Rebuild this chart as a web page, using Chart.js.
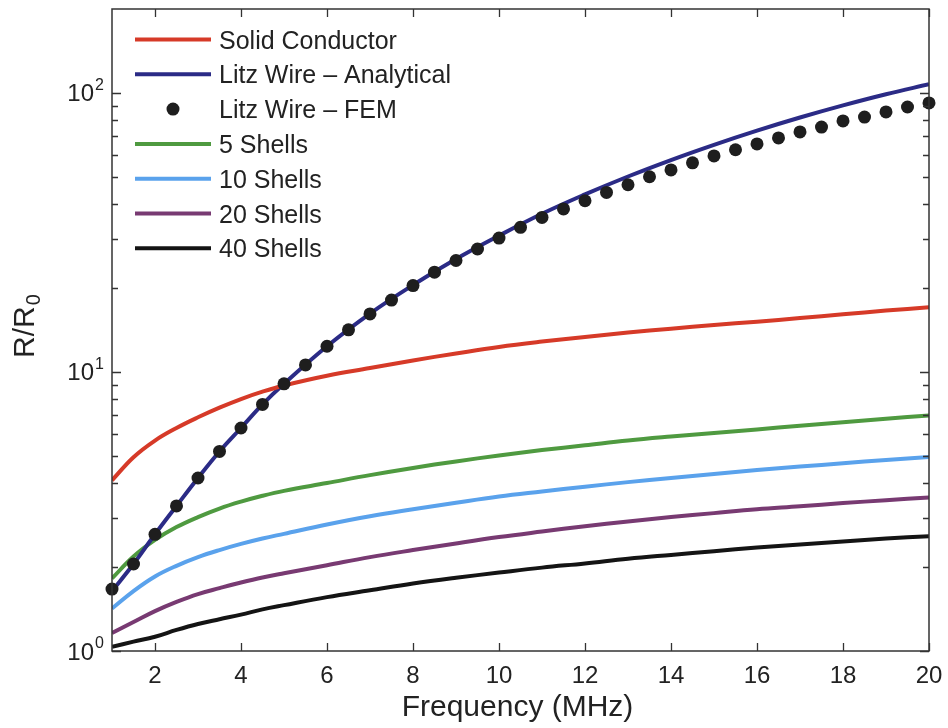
<!DOCTYPE html>
<html><head><meta charset="utf-8">
<script src="https://cdn.jsdelivr.net/npm/chart.js@4.4.1/dist/chart.umd.min.js"></script>
<style>html,body{margin:0;padding:0;background:#fff}#wrap{width:948px;height:728px;position:relative}</style>
</head><body><div id="wrap"><canvas id="c" width="948" height="728"></canvas></div>
<script>
// ---- data ----
const FREQ_FEM = [1,1.5,2,2.5,3,3.5,4,4.5,5,5.5,6,6.5,7,7.5,8,8.5,9,9.5,10,10.5,11,11.5,12,12.5,13,13.5,14,14.5,15,15.5,16,16.5,17,17.5,18,18.5,19,19.5,20];
const LITZ_FEM = [1.667,2.05,2.62,3.31,4.17,5.19,6.30,7.65,9.07,10.6,12.37,14.16,16.15,18.1,20.4,22.8,25.1,27.6,30.2,33.0,35.8,38.4,41.1,44.0,46.9,50.1,53.0,56.2,59.5,62.6,65.7,69.0,72.5,75.5,79.4,82.0,85.5,89.1,92.1];
const FREQ = [1,1.5,2,2.5,3,3.5,4,4.5,5,6,7,8,9,10,11,12,13,14,15,16,17,18,19,20];
const SOLID = [4.09,4.95,5.68,6.3,6.88,7.45,8.0,8.5,8.95,9.7,10.33,11.0,11.65,12.3,12.85,13.35,13.85,14.3,14.75,15.15,15.6,16.1,16.6,17.05];
const LITZ_ANALYTICAL = [1.64,2.05,2.62,3.31,4.17,5.19,6.3,7.65,9.07,12.37,16.2,20.5,25.4,30.8,36.9,43.3,50.2,57.5,65.2,73.3,81.7,90.3,99.0,107.5];
const SHELLS_5 = [1.82,2.18,2.5,2.78,3.02,3.24,3.43,3.6,3.75,4.0,4.27,4.53,4.78,5.02,5.25,5.46,5.68,5.87,6.05,6.22,6.42,6.6,6.8,6.99];
const SHELLS_10 = [1.42,1.64,1.85,2.02,2.17,2.3,2.42,2.53,2.63,2.84,3.04,3.22,3.4,3.58,3.73,3.88,4.03,4.17,4.31,4.45,4.58,4.71,4.84,4.96];
const SHELLS_20 = [1.16,1.27,1.39,1.5,1.6,1.68,1.76,1.835,1.9,2.03,2.17,2.3,2.43,2.56,2.68,2.8,2.91,3.02,3.12,3.22,3.3,3.39,3.47,3.55];
const SHELLS_40 = [1.035,1.08,1.125,1.19,1.25,1.3,1.35,1.41,1.46,1.56,1.65,1.745,1.83,1.91,1.99,2.06,2.14,2.21,2.28,2.35,2.41,2.47,2.53,2.58];
const X_TICKS = [2,4,6,8,10,12,14,16,18,20];
const Y_MAJOR = [1,10,100];
const Y_MAJOR_EXP = ['0','1','2'];
const LABELS = ['Solid Conductor','Litz Wire \u2013 Analytical','Litz Wire \u2013 FEM','5 Shells','10 Shells','20 Shells','40 Shells'];
const X_TITLE = 'Frequency (MHz)';
const Y_TITLE_MAIN = 'R/R';
const Y_TITLE_SUB = '0';

const FONT = '"Liberation Sans", Arial, Helvetica, sans-serif';
const pts = (xs, ys) => xs.map((x, i) => ({x: x, y: ys[i]}));
const lineDs = (label, xs, ys, color) => ({
  label, data: pts(xs, ys), borderColor: color, backgroundColor: color,
  borderWidth: 4, pointRadius: 0, fill: false, tension: 0.4
});

const datasets = [
  lineDs(LABELS[0], FREQ, SOLID, '#d63a28'),
  lineDs(LABELS[1], FREQ, LITZ_ANALYTICAL, '#2b2b86'),
  {label: LABELS[2], data: pts(FREQ_FEM, LITZ_FEM), showLine: false, pointRadius: 6.5,
   pointBackgroundColor: '#1e1e1e', pointBorderWidth: 0, borderColor: '#1e1e1e', backgroundColor: '#1e1e1e', clip: false, order: -1, isDots: true},
  lineDs(LABELS[3], FREQ, SHELLS_5, '#4f9a40'),
  lineDs(LABELS[4], FREQ, SHELLS_10, '#5aa2ec'),
  lineDs(LABELS[5], FREQ, SHELLS_20, '#783a72'),
  lineDs(LABELS[6], FREQ, SHELLS_40, '#141414')
];

const framePlugin = {
  id: 'frame',
  afterDraw(chart) {
    const ctx = chart.ctx, a = chart.chartArea, xs = chart.scales.x, ys = chart.scales.y;
    ctx.save();
    // box
    ctx.strokeStyle = '#333'; ctx.lineWidth = 1.5;
    ctx.strokeRect(a.left, a.top, a.right - a.left, a.bottom - a.top);
    // x ticks (inward, bottom and top)
    ctx.lineWidth = 1.3;
    ctx.beginPath();
    X_TICKS.forEach(v => {
      const px = Math.round(xs.getPixelForValue(v)) + 0.5;
      ctx.moveTo(px, a.bottom); ctx.lineTo(px, a.bottom - 8);
      ctx.moveTo(px, a.top); ctx.lineTo(px, a.top + 8);
    });
    // y ticks (inward, left and right)
    Y_MAJOR.forEach(d => {
      for (let m = 1; m <= 9; m++) {
        const v = m * d;
        if (v >= ys.max || v <= ys.min && m > 1) continue;
        const len = m === 1 ? 9 : 6;
        const py = Math.round(ys.getPixelForValue(v)) + 0.5;
        ctx.moveTo(a.left, py); ctx.lineTo(a.left + len, py);
        ctx.moveTo(a.right, py); ctx.lineTo(a.right - len, py);
      }
    });
    ctx.stroke();
    // y labels 10^n
    ctx.fillStyle = '#222';
    Y_MAJOR.forEach((v, i) => {
      const py = ys.getPixelForValue(v);
      ctx.font = '24px ' + FONT; ctx.textAlign = 'right'; ctx.textBaseline = 'alphabetic';
      ctx.fillText('10', a.left - 18, py + 8.5);
      ctx.font = '16px ' + FONT; ctx.textAlign = 'left';
      ctx.fillText(Y_MAJOR_EXP[i], a.left - 17, py - 3);
    });
    // y title
    ctx.save();
    ctx.translate(23, 326);
    ctx.rotate(-Math.PI / 2);
    ctx.font = '30px ' + FONT;
    const w1 = ctx.measureText(Y_TITLE_MAIN).width;
    ctx.font = '20px ' + FONT;
    const w2 = ctx.measureText(Y_TITLE_SUB).width;
    const W = w1 + w2 + 1;
    ctx.textAlign = 'left'; ctx.textBaseline = 'alphabetic';
    ctx.font = '30px ' + FONT;
    ctx.fillText(Y_TITLE_MAIN, -W / 2, 10.5);
    ctx.font = '20px ' + FONT;
    ctx.fillText(Y_TITLE_SUB, -W / 2 + w1 + 1, 17);
    ctx.restore();
    // x title
    ctx.font = '30px ' + FONT; ctx.textAlign = 'center'; ctx.textBaseline = 'alphabetic';
    ctx.fillText(X_TITLE, (a.left + a.right) / 2 - 3, 716);
    // legend
    chart.data.datasets.forEach((ds, i) => {
      const y = 39.5 + i * 34.8;
      if (ds.isDots) {
        ctx.beginPath(); ctx.fillStyle = ds.pointBackgroundColor;
        ctx.arc(173, y, 6.5, 0, Math.PI * 2); ctx.fill();
      } else {
        ctx.beginPath(); ctx.strokeStyle = ds.borderColor; ctx.lineWidth = 4;
        ctx.moveTo(135, y); ctx.lineTo(211, y); ctx.stroke();
      }
      ctx.fillStyle = '#222'; ctx.font = '25px ' + FONT; ctx.textAlign = 'left'; ctx.textBaseline = 'alphabetic';
      ctx.fillText(ds.label, 219, y + 9);
    });
    ctx.restore();
  }
};

new Chart(document.getElementById('c'), {
  type: 'line',
  data: {datasets},
  options: {
    responsive: false, animation: false, devicePixelRatio: 1,
    layout: {padding: {left: 0, right: 19, top: 9, bottom: 0}},
    plugins: {legend: {display: false}, tooltip: {enabled: false}},
    scales: {
      x: {
        type: 'linear', min: 1, max: 20,
        grid: {display: false, drawTicks: false}, border: {display: false},
        ticks: {font: {family: FONT, size: 24}, color: '#222', padding: 11, maxRotation: 0, autoSkip: false},
        afterBuildTicks: s => { s.ticks = X_TICKS.map(v => ({value: v})); },
        afterFit: s => { s.height = 77; s.paddingLeft = 0; s.paddingRight = 0; }
      },
      y: {
        type: 'logarithmic', min: 1, max: 200,
        grid: {display: false, drawTicks: false}, border: {display: false},
        ticks: {display: false},
        afterFit: s => { s.width = 112; s.paddingTop = 0; s.paddingBottom = 0; }
      }
    }
  },
  plugins: [framePlugin]
});
</script></body></html>
